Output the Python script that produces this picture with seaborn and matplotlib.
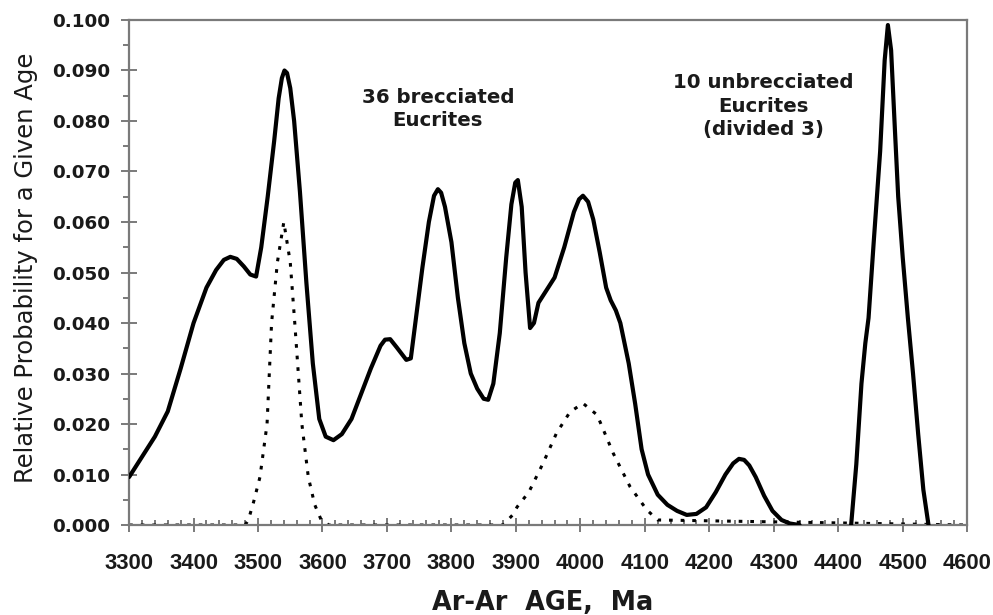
import numpy as np
import pandas as pd
import seaborn as sns
import matplotlib
matplotlib.use("Agg")
import matplotlib.pyplot as plt
from matplotlib.ticker import MultipleLocator, FormatStrFormatter

# ---- data ----
brecciated_age = [3300, 3320, 3340, 3360, 3380, 3400, 3420, 3435, 3447, 3457, 3467, 3478, 3488,
                  3497, 3505, 3515, 3525, 3532, 3537, 3541, 3545, 3550, 3556, 3565, 3575,
                  3585, 3595, 3605, 3617, 3630, 3645, 3660, 3675, 3690, 3697, 3705, 3715,
                  3730, 3737, 3745, 3755, 3765, 3773, 3779, 3784, 3790, 3800, 3810, 3820,
                  3830, 3840, 3850, 3857, 3865, 3875, 3885, 3893, 3899, 3903, 3909, 3915,
                  3922, 3928, 3935, 3945, 3960, 3975, 3990, 3998, 4004, 4012, 4020, 4030,
                  4040, 4047, 4055, 4062, 4075, 4085, 4095, 4105, 4120, 4135, 4150, 4165,
                  4180, 4195, 4210, 4225, 4237, 4246, 4254, 4262, 4272, 4285, 4298, 4312,
                  4325, 4340]
brecciated_prob = [0.0095, 0.0135, 0.0175, 0.0225, 0.031, 0.040, 0.047, 0.0505, 0.0525, 0.0531,
                   0.0527, 0.0512, 0.0496, 0.0492, 0.055, 0.065, 0.076, 0.0845, 0.0885, 0.0900,
                   0.0895, 0.0865, 0.080, 0.066, 0.048, 0.032, 0.021, 0.0175, 0.0168, 0.018,
                   0.021, 0.026, 0.031, 0.0355, 0.0367, 0.0368, 0.0352, 0.0327, 0.033, 0.041,
                   0.051, 0.060, 0.0652, 0.0665, 0.0658, 0.063, 0.056, 0.045, 0.036, 0.030,
                   0.027, 0.025, 0.0248, 0.028, 0.038, 0.053, 0.0635, 0.0678, 0.0683, 0.063,
                   0.050, 0.039, 0.040, 0.044, 0.046, 0.049, 0.055, 0.062, 0.0645, 0.0652,
                   0.0640, 0.0605, 0.054, 0.047, 0.0445, 0.0425, 0.040, 0.032, 0.024, 0.015,
                   0.010, 0.006, 0.004, 0.0028, 0.002, 0.0022, 0.0035, 0.0065, 0.010, 0.0122,
                   0.0131, 0.0129, 0.0118, 0.0095, 0.0058, 0.0028, 0.001, 0.0003, 0.0]

unbrecciated_age = [4420, 4428, 4436, 4442, 4447, 4455, 4465, 4472, 4477, 4482, 4488, 4493,
                    4500, 4508, 4516, 4524, 4532, 4540]
unbrecciated_prob = [0.0, 0.012, 0.028, 0.036, 0.041, 0.056, 0.074, 0.092, 0.099, 0.094,
                     0.078, 0.065, 0.053, 0.041, 0.030, 0.018, 0.007, 0.0]

dotted_age = [3300, 3480, 3485, 3493, 3503, 3514, 3521, 3530, 3540, 3550, 3557, 3568, 3578,
              3588, 3598, 3610, 3880, 3895, 3902, 3920, 3942, 3963, 3984, 4004, 4026, 4051,
              4077, 4103, 4120, 4600]
dotted_prob = [0.0, 0.0, 0.001, 0.0045, 0.0095, 0.020, 0.040, 0.052, 0.060, 0.052, 0.040,
               0.020, 0.0095, 0.004, 0.001, 0.0, 0.0, 0.002, 0.0036, 0.0065, 0.0122, 0.0182,
               0.0224, 0.0241, 0.0218, 0.0142, 0.0076, 0.003, 0.001, 0.0]

x_ticks = [3300, 3400, 3500, 3600, 3700, 3800, 3900, 4000, 4100, 4200, 4300, 4400, 4500, 4600]
y_ticks = [0.000, 0.010, 0.020, 0.030, 0.040, 0.050, 0.060, 0.070, 0.080, 0.090, 0.100]

label_brecciated = "36 brecciated\nEucrites"
label_unbrecciated = "10 unbrecciated\nEucrites\n(divided 3)"

# ---- style ----
sns.set_theme(style="white")
plt.rcParams['font.family'] = ['DejaVu Sans']

fig = plt.figure(figsize=(9.93, 6.15), dpi=100)
ax = fig.add_axes([0.130, 0.1463, 0.844, 0.8212])

df_b = pd.DataFrame({"age": brecciated_age, "prob": brecciated_prob})
df_u = pd.DataFrame({"age": unbrecciated_age, "prob": unbrecciated_prob})
df_d = pd.DataFrame({"age": dotted_age, "prob": dotted_prob})

sns.lineplot(data=df_d, x="age", y="prob", ax=ax, color="black", lw=2.2,
             linestyle=(0, (1.2, 2.6)), sort=False, estimator=None, zorder=2)
for df in (df_b, df_u):
    sns.lineplot(data=df, x="age", y="prob", ax=ax, color="black", lw=3.0,
                 sort=False, estimator=None, zorder=3,
                 solid_joinstyle='round', solid_capstyle='round')

ax.set_xlim(3300, 4600)
ax.set_ylim(0, 0.100)
ax.set_xticks(x_ticks)
ax.set_yticks(y_ticks)
ax.xaxis.set_minor_locator(MultipleLocator(20))
ax.yaxis.set_minor_locator(MultipleLocator(0.005))
ax.yaxis.set_major_formatter(FormatStrFormatter('%.3f'))

spine_c = '#7a7a7a'
for s in ax.spines.values():
    s.set_color(spine_c)
    s.set_linewidth(1.6)

ax.tick_params(axis='y', which='major', direction='inout', length=11, width=1.4,
               color=spine_c, pad=8.3, left=True, labelsize=13.2,
               labelcolor='#1a1a1a', labelfontfamily='DejaVu Sans')
ax.tick_params(axis='y', which='minor', direction='out', length=4, width=1.4,
               color=spine_c, left=True)
ax.tick_params(axis='x', which='major', direction='inout', length=10, width=1.4,
               color=spine_c, pad=15, bottom=True, labelsize=15.8,
               labelcolor='#1a1a1a', labelfontfamily='Liberation Sans')
ax.tick_params(axis='x', which='minor', direction='in', length=3.5, width=1.4,
               color=spine_c, bottom=True)
plt.setp(ax.get_yticklabels(), fontweight='bold')
plt.setp(ax.get_xticklabels(), fontweight='bold')

ax.set_xlabel("Ar-Ar  AGE,  Ma", fontsize=18.4, fontweight='bold', color='#1a1a1a')
ax.xaxis.set_label_coords(0.493, -0.128)
ax.set_ylabel("Relative Probability for a Given Age", fontsize=17.5, color='#1a1a1a')
ax.yaxis.set_label_coords(-0.1086, 0.51)

ax.text(3779, 0.0865, label_brecciated, ha='center', va='top', fontsize=14.2,
        fontweight='bold', color='#1a1a1a', linespacing=1.25)
ax.text(4283.6, 0.0895, label_unbrecciated, ha='center', va='top', fontsize=14.2,
        fontweight='bold', color='#1a1a1a', linespacing=1.3)

fig.savefig("out.png", dpi=100)
